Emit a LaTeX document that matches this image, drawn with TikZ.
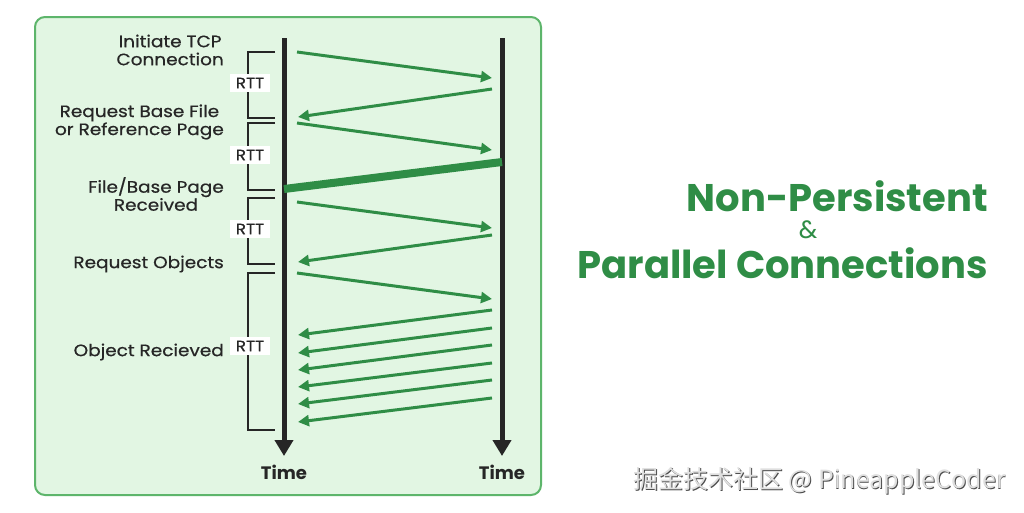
\documentclass[tikz,border=0pt]{standalone}
\usepackage{fontspec}
\setmainfont{Poppins}
\newfontfamily\lblfont[FakeStretch=1.12, FakeBold=0.6]{Poppins}
\newfontfamily\cjkfont{Noto Sans CJK SC}
\usetikzlibrary{arrows.meta}
\definecolor{gfg}{HTML}{2F8D46}
\definecolor{boxfill}{HTML}{E2F6E3}
\definecolor{boxline}{HTML}{5DB56B}
\definecolor{ink}{HTML}{262626}
\begin{document}
\begin{tikzpicture}[x=1pt,y=-1pt,
  lbl/.style={font=\lblfont\fontsize{16.5}{18}\selectfont, text=ink, align=center, anchor=east, inner sep=0pt},
  rtt/.style={fill=white, font=\lblfont\fontsize{15}{16}\selectfont, text=ink, inner xsep=2pt, inner ysep=2pt, minimum width=40pt, minimum height=18pt},
  brk/.style={draw=ink, line width=2pt},
  timeline/.style={draw=ink, line width=5pt, -{Triangle[length=16pt,width=18pt]}},
  msg/.style={draw=gfg, line width=3pt, -{Triangle[length=11pt,width=11pt]}},
  timelbl/.style={font=\fontsize{18}{20}\selectfont\bfseries, text=ink}
]
\useasboundingbox (0,0) rectangle (1024,512);
\fill[white] (0,0) rectangle (1024,512);
% panel
\draw[fill=boxfill, draw=boxline, line width=2pt, rounded corners=10pt] (35,17) rectangle (541,495);
% timelines
\coordinate (L0) at (284,38);
\coordinate (L1) at (284,456);
\coordinate (R0) at (502,38);
\coordinate (R1) at (502,456);
\draw[timeline] (L0) -- (L1);
\draw[timeline] (R0) -- (R1);
\node[timelbl] (tl) at (284,472) {Time};
\node[timelbl] (tr) at (502,472) {Time};
% messages
\coordinate (a1) at (297,52);  \coordinate (b1) at (492,78);
\coordinate (b2) at (492,89);  \coordinate (a2) at (298,117);
\coordinate (a3) at (297,123); \coordinate (b3) at (492,150);
\coordinate (b4) at (502,162); \coordinate (a4) at (284,189);
\coordinate (a5) at (297,202); \coordinate (b5) at (492,228);
\coordinate (b6) at (492,235); \coordinate (a6) at (298,262);
\coordinate (a7) at (297,273); \coordinate (b7) at (492,299);
\draw[msg] (a1) -- (b1);
\draw[msg] (b2) -- (a2);
\draw[msg] (a3) -- (b3);
\draw[draw=gfg, line width=8pt] (b4) -- (a4);
\draw[msg] (a5) -- (b5);
\draw[msg] (b6) -- (a6);
\draw[msg] (a7) -- (b7);
\foreach \i/\ys/\ye in {1/310/335, 2/328/353, 3/345/370, 4/363/387, 5/380/404, 6/398/422}{
  \coordinate (o\i s) at (492,\ys);
  \coordinate (o\i e) at (298,\ye);
  \draw[msg] (o\i s) -- (o\i e);
}
% brackets
\draw[brk] (275,52) -- (248,52) -- (248,118) -- (275,118);
\draw[brk] (275,123) -- (248,123) -- (248,190) -- (275,190);
\draw[brk] (275,198) -- (248,198) -- (248,264) -- (275,264);
\draw[brk] (275,273) -- (248,273) -- (248,430) -- (275,430);
\node[rtt] (r1) at (250,83) {RTT};
\node[rtt] (r2) at (250,155) {RTT};
\node[rtt] (r3) at (250,229) {RTT};
\node[rtt] (r4) at (250,346) {RTT};
% labels
\node[lbl] (tcp) at (224,50) {Initiate TCP\\Connection};
\node[lbl] (req) at (224,122) {Request Base File\\or Reference Page};
\node[lbl] (rcv) at (224,194) {File/Base Page\\Received};
\node[lbl] (rqo) at (224,264) {Request Objects};
\node[lbl] (obr) at (224,352) {Object Recieved};
% title
\node[font=\fontsize{38.5}{40}\selectfont\bfseries, text=gfg, anchor=east, inner sep=0pt] (t1) at (988,196) {Non-Persistent};
\node[font=\fontsize{25}{26}\selectfont, text=gfg, inner sep=0pt] (amp) at (808,230) {\&};
\node[font=\fontsize{38.5}{40}\selectfont\bfseries, text=gfg, anchor=east, inner sep=0pt] (t2) at (988,263) {Parallel Connections};
% watermark
\node[font=\cjkfont\fontsize{25}{26}\selectfont, text=gray!60!black, anchor=east, inner sep=0pt] at (1006.8,481.8) {掘金技术社区 @ PineappleCoder};
\node[font=\cjkfont\fontsize{25}{26}\selectfont, text=gray!25, anchor=east, inner sep=0pt] (wm) at (1006,481) {掘金技术社区 @ PineappleCoder};
\end{tikzpicture}
\end{document}
